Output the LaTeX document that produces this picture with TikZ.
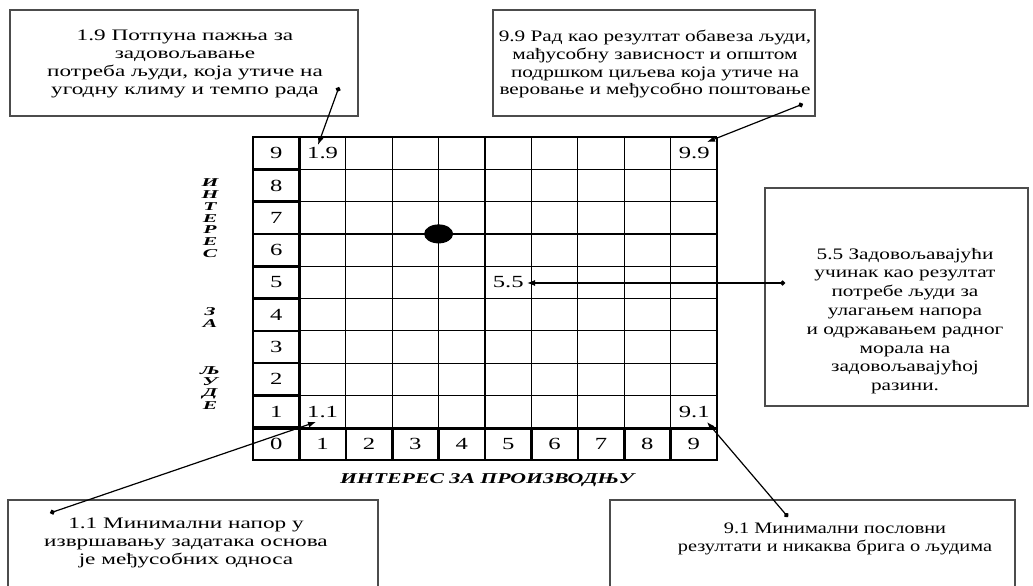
\documentclass[tikz,border=0pt]{standalone}
\usepackage{fontspec}
\setmainfont{Liberation Serif}[FakeStretch=1.45]
\newfontfamily\midfont{Liberation Serif}[FakeStretch=1.33]
\newfontfamily\narrowfont{Liberation Serif}[FakeStretch=1.27]
\newfontfamily\vfont{Liberation Serif}[FakeStretch=1.8]
\usetikzlibrary{arrows.meta,shapes.geometric}
\begin{document}
\begin{tikzpicture}[x=1pt,y=-1pt,
  thinline/.style={line width=1.2pt},
  thickline/.style={line width=2.6pt},
  box/.style={draw=black!70, line width=1.2pt},
  boxtext/.style={align=center, font=\fontsize{16}{18}\selectfont, inner sep=0pt},
  celltext/.style={font=\fontsize{17}{20}\selectfont, inner sep=0pt},
  axistext/.style={font=\fontsize{15}{12}\selectfont\bfseries\itshape, inner sep=0pt},
  vtext/.style={font=\vfont\fontsize{12}{12}\selectfont\bfseries\itshape, inner sep=0pt},
  conn/.style={line width=1.2pt, {Circle[length=5pt]}-{Latex[length=8pt,width=6pt]}},
  bigdot/.style={ellipse, fill=black, minimum width=29pt, minimum height=19pt, inner sep=0pt}]
\clip (0,0) rectangle (1033,586);
\fill[white] (0,0) rectangle (1033,586);

% grid (thin)
\foreach \i in {2,...,9} \draw[thinline] ({253+46.4*\i},137) -- ({253+46.4*\i},428.7);
\foreach \k in {0,...,8} \draw[thinline] (299.4,{137+32.3*\k}) -- (717,{137+32.3*\k});
\draw[thinline] (717,137) -- (717,428.7);
% thick axis cells
\foreach \k in {0,...,8} \draw[thickline] (253,{137+32.3*\k}) rectangle (299.4,{137+32.3*(\k+1)});
\foreach \i in {0,...,9} \draw[thickline] ({253+46.4*\i},428.7) rectangle ({253+46.4*(\i+1)},460);

% axis numbers
\foreach \k/\n in {0/9,1/8,2/7,3/6,4/5,5/4,6/3,7/2,8/1}
  \node[celltext] (r\n) at (276.2,{137+32.3*\k+16.15}) {\n};
\foreach \i in {0,...,9}
  \node[celltext] (c\i) at ({253+46.4*\i+23.2},444.35) {\i};

% cell labels
\node[celltext] (l19) at (322.6,153.2) {1.9};
\node[celltext] (l99) at (694.2,153.2) {9.9};
\node[celltext] (l11) at (322.6,411.6) {1.1};
\node[celltext] (l91) at (694.2,411.6) {9.1};
\node[celltext] (l55) at (508.2,282.4) {5.5};

% big dot
\node[bigdot] (dot) at (438.6,233.9) {};

% axis titles
\foreach \n/\ch in {0/И,1/Н,2/Т,3/Е,4/Р,5/Е,6/С,11/З,12/А,16/Љ,17/У,18/Д,19/Е}
  \node[vtext] (y\n) at (210,{183+11.7*\n}) {\ch};
\node[axistext] (xtitle) at (487,480) {ИНТЕРЕС ЗА ПРОИЗВОДЊУ};

% boxes
\draw[box] (10,10) rectangle (358,116);
\node[boxtext] (t19) at (185,64) {1.9 Потпуна пажња за\\задовољавање\\потреба људи, која утиче на\\угодну климу и темпо рада};
\draw[box] (493,10) rectangle (815,116);
\node[boxtext, font=\midfont\fontsize{16}{18}\selectfont] (t99) at (655,64) {9.9 Рад као резултат обавеза људи,\\мађусобну зависност и општом\\подршком циљева која утиче на\\веровање и међусобно поштовање};
\draw[box] (765,188) rectangle (1028,406);
\node[boxtext, font=\midfont\fontsize{16}{18.8}\selectfont] (t55) at (905,321) {5.5 Задовољавајући\\учинак као резултат\\потребе људи за\\улагањем напора\\и одржавањем радног\\морала на\\задовољавајућој\\разини.};
\draw[box] (8,500) rectangle (378,600);
\node[boxtext] (t11) at (186,543) {1.1 Минимални напор у\\извршавању задатака основа\\је међусобних односа};
\draw[box] (610,500) rectangle (1015,600);
\node[boxtext, font=\narrowfont\fontsize{16}{18}\selectfont] (t91) at (835,539) {9.1 Минимални пословни\\резултати и никаква брига о људима};

% connector ends
\coordinate (d19) at (339,87);
\coordinate (a19) at (318,145);
\coordinate (d99) at (803,104);
\coordinate (a99) at (707,142);
\coordinate (d55) at (785,283);
\coordinate (a55) at (527,283);
\coordinate (d11) at (50,513);
\coordinate (a11) at (316,422);
\coordinate (d91) at (788,517);
\coordinate (a91) at (707,422);
\draw[conn] (d19) -- (a19);
\draw[conn] (d99) -- (a99);
\draw[conn] (d55) -- (a55);
\draw[conn] (d11) -- (a11);
\draw[conn] (d91) -- (a91);
\end{tikzpicture}
\end{document}
